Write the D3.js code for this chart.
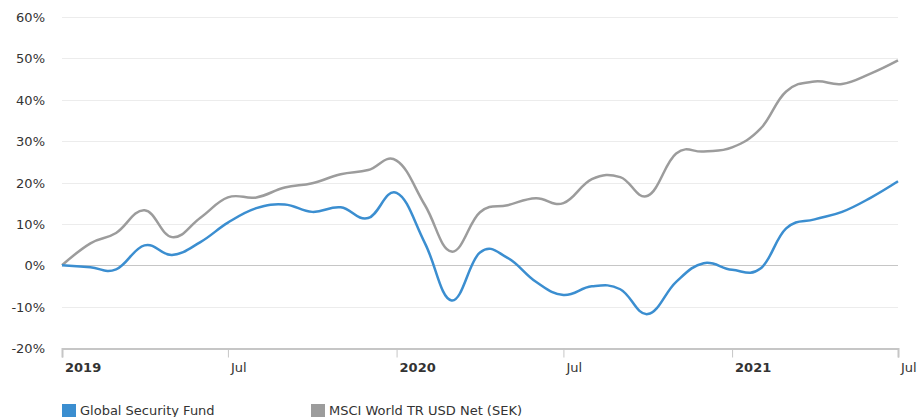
<!DOCTYPE html>
<html>
<head>
<meta charset="utf-8">
<script src="https://cdn.jsdelivr.net/npm/d3@7"></script>
<style>
body { margin: 0; background: #fff; }
text { font-family: "DejaVu Sans", Verdana, sans-serif; }
</style>
</head>
<body>
<svg id="chart" width="920" height="417"></svg>
<script>
// monthly points, Jan 2019 .. Jul 2021
var months = d3.timeMonths(new Date(2019, 0, 1), new Date(2021, 6, 2));

var fundValues = [0, -0.5, -1.0, 4.8, 2.5, 5.6, 10.3, 13.8, 14.7, 12.9, 14.0, 11.4,
	17.5, 5.3, -8.5, 3.1, 1.8, -4.0, -7.2, -5.1, -5.8, -11.8, -4.0, 0.5,
	-1.1, -0.8, 8.9, 11.1, 12.9, 16.3, 20.3];
var indexValues = [0, 5.3, 7.8, 13.3, 6.8, 11.5, 16.4, 16.4, 18.8, 19.8, 22.0, 23.0,
	25.3, 14.5, 3.3, 12.8, 14.5, 16.2, 15.0, 20.8, 21.3, 16.8, 27.0, 27.5,
	28.5, 33.0, 42.0, 44.4, 43.8, 46.3, 49.5];
var seriesNames = ["Global Security Fund", "MSCI World TR USD Net (SEK)"];
var seriesColors = ["#3b8ed0", "#9c9c9c"];
var yTicks = [-20, -10, 0, 10, 20, 30, 40, 50, 60];
var xTicks = [new Date(2019,0,1), new Date(2019,6,1), new Date(2020,0,1), new Date(2020,6,1), new Date(2021,0,1), new Date(2021,6,1)];

var plotLeft = 62, plotRight = 898, plotTop = 17, plotBottom = 348;
var svg = d3.select("#chart");

var x = d3.scaleTime()
	.domain([new Date(2019,0,1), new Date(2021,6,1)])
	.range([plotLeft, plotRight]);
var y = d3.scaleLinear()
	.domain([-20, 60])
	.range([plotBottom, plotTop]);

//Grid
svg.append("g")
	.selectAll("line")
	.data(yTicks.filter(function(d){ return d != -20; }))
	.enter().append("line")
		.attr("x1", plotLeft)
		.attr("x2", plotRight)
		.attr("y1", function(d){ return Math.round(y(d)) + 0.5; })
		.attr("y2", function(d){ return Math.round(y(d)) + 0.5; })
		.attr("stroke", function(d){ return d == 0 ? "#c6c6c6" : "#ececec"; })
		.attr("stroke-width", 1);

//Y labels
svg.append("g")
	.selectAll("text")
	.data(yTicks)
	.enter().append("text")
		.attr("x", 45)
		.attr("y", function(d){ return y(d) + 5; })
		.attr("text-anchor", "end")
		.attr("font-size", "13px")
		.attr("fill", "#333")
		.text(function(d){ return d + "%"; });

//X axis
var xAxis = d3.axisBottom(x)
	.tickValues(xTicks)
	.tickSize(9)
	.tickFormat("");
var gx = svg.append("g")
	.attr("transform", "translate(0," + (plotBottom + 0.5) + ")")
	.call(xAxis);
gx.select(".domain").attr("stroke", "#c6c6c6").attr("stroke-width", 2);
gx.selectAll(".tick line").attr("stroke", "#c6c6c6");

svg.append("g")
	.selectAll("text")
	.data(xTicks)
	.enter().append("text")
		.attr("x", function(d){ return x(d) + 3; })
		.attr("y", 372)
		.attr("font-size", "13px")
		.attr("font-weight", function(d){ return d.getMonth() == 0 ? "bold" : "normal"; })
		.attr("fill", "#333")
		.text(function(d){ return d.getMonth() == 0 ? d.getFullYear() : "Jul"; });

//Lines (spline with longer handles, like the original)
var line = d3.line()
	.x(function(d, i){ return x(months[i]); })
	.y(function(d){ return y(d); })
	.curve(d3.curveCardinal.tension(-0.2));

[indexValues, fundValues].forEach(function(vals, k){
	var idx = k == 0 ? 1 : 0;
	svg.append("path")
		.attr("d", line(vals))
		.attr("fill", "none")
		.attr("stroke", seriesColors[idx])
		.attr("stroke-width", 2.5)
		.attr("stroke-linejoin", "round");
});

//Legend
var legendX = [62, 311];
seriesNames.forEach(function(name, i){
	svg.append("rect")
		.attr("x", legendX[i])
		.attr("y", 404)
		.attr("width", 14)
		.attr("height", 14)
		.attr("fill", seriesColors[i]);
	svg.append("text")
		.attr("x", legendX[i] + 18)
		.attr("y", 415)
		.attr("font-size", "13px")
		.attr("fill", "#333")
		.text(name);
});
</script>
</body>
</html>
